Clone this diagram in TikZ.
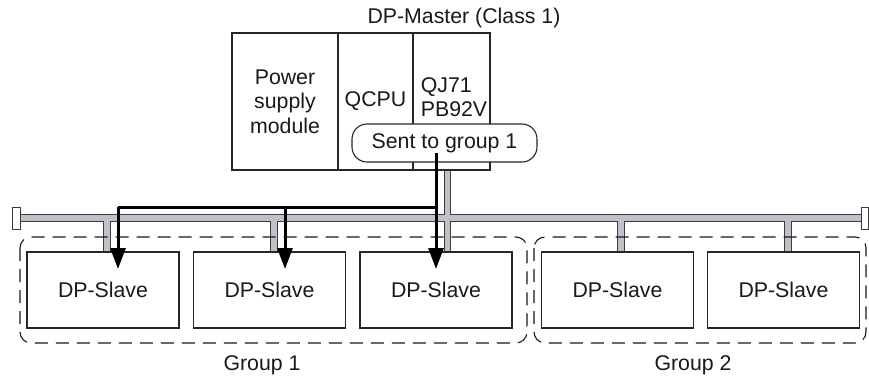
\documentclass[tikz,border=0pt]{standalone}
\usepackage{fontspec}
\setmainfont{Liberation Sans}
\usetikzlibrary{arrows.meta}
\definecolor{busgrey}{RGB}{190,194,200}
\definecolor{busedge}{RGB}{60,60,60}
\begin{document}
\begin{tikzpicture}[x=1pt,y=-1pt,
  every node/.style={font=\fontsize{21.3}{24.5}\selectfont, text=black!90},
  module/.style={draw=black!85, line width=1.1pt, inner sep=0pt, minimum height=137pt, align=center},
  slavebox/.style={draw=black!85, line width=1.1pt, inner sep=0pt, minimum width=152pt, minimum height=76pt},
  sendbox/.style={draw=black!85, line width=1.1pt, fill=white, rounded corners=15pt, inner sep=0pt, minimum width=185pt, minimum height=38pt},
  grpbox/.style={draw=black!90, line width=1.1pt, dash pattern=on 13pt off 8pt, rounded corners=11pt},
  busout/.style={draw=busedge, line width=7.5pt},
  busin/.style={draw=busgrey, line width=5.3pt},
  endcap/.style={draw=busedge, fill=white, line width=1pt},
  sig/.style={draw=black, line width=3pt},
  sigarrow/.style={sig, -{Triangle[width=15pt,length=21pt]}}
]
\useasboundingbox (0,0) rectangle (869,381);

% master
\node (mlabel) at (464,18) {DP-Master (Class 1)};
\node[module, minimum width=106pt] (psu) at (285,101.5) {Power\\supply\\module};
\node[module, minimum width=75pt] (qcpu) at (375.5,101.5) {QCPU};
\node[module, minimum width=77pt] (qj) at (451.5,101.5) {};
\node[align=left] (qjtext) at (454,97) {QJ71\\PB92V};
\node[sendbox] (send) at (444.5,143) {Sent to group 1};

% slaves
\node[slavebox] (s1) at (103,290) {DP-Slave};
\node[slavebox] (s2) at (269.5,290) {DP-Slave};
\node[slavebox] (s3) at (436,290) {DP-Slave};
\node[slavebox] (s4) at (617.5,290) {DP-Slave};
\node[slavebox] (s5) at (783.5,290) {DP-Slave};

% bus coordinates
\coordinate (bl) at (20,218);
\coordinate (br) at (862,218);
\coordinate (mdrop) at (447.5,218);
\coordinate (d1) at (107,218);
\coordinate (d2) at (274,218);
\coordinate (d3) at (447.5,218);
\coordinate (d4) at (621,218);
\coordinate (d5) at (788,218);

% bus outline
\draw[busout] (bl) -- (br);
\draw[busout] (mdrop) -- (mdrop |- qj.south);
\foreach \d/\s in {d1/s1,d2/s2,d3/s3,d4/s4,d5/s5}
  \draw[busout] (\d) -- (\d |- \s.north);
% bus inner
\draw[busin] (bl) -- (br);
\draw[busin] (mdrop) -- (mdrop |- qj.south);
\foreach \d/\s in {d1/s1,d2/s2,d3/s3,d4/s4,d5/s5}
  \draw[busin] (\d) -- (\d |- \s.north);
% end caps
\draw[endcap] (12,207) rectangle (20,229);
\draw[endcap] (861,207) rectangle (868.4,229);

% groups
\draw[grpbox] (20,237) rectangle (527,343);
\draw[grpbox] (534,237) rectangle (866,343);
\node (g1) at (262,365) {Group 1};
\node (g2) at (693,365) {Group 2};

% signal
\coordinate (src) at (436,153);
\coordinate (j0) at (436,207);
\coordinate (j1) at (118,207);
\coordinate (j2) at (285,207);
\coordinate (t1) at (118,269);
\coordinate (t2) at (285,269);
\coordinate (t3) at (436,269);
\draw[sig] (src) -- (j0);
\draw[sig] (j0) -- (j1);
\draw[sigarrow] (j1) -- (t1);
\draw[sigarrow] (j2) -- (t2);
\draw[sigarrow] (j0) -- (t3);
\end{tikzpicture}
\end{document}
